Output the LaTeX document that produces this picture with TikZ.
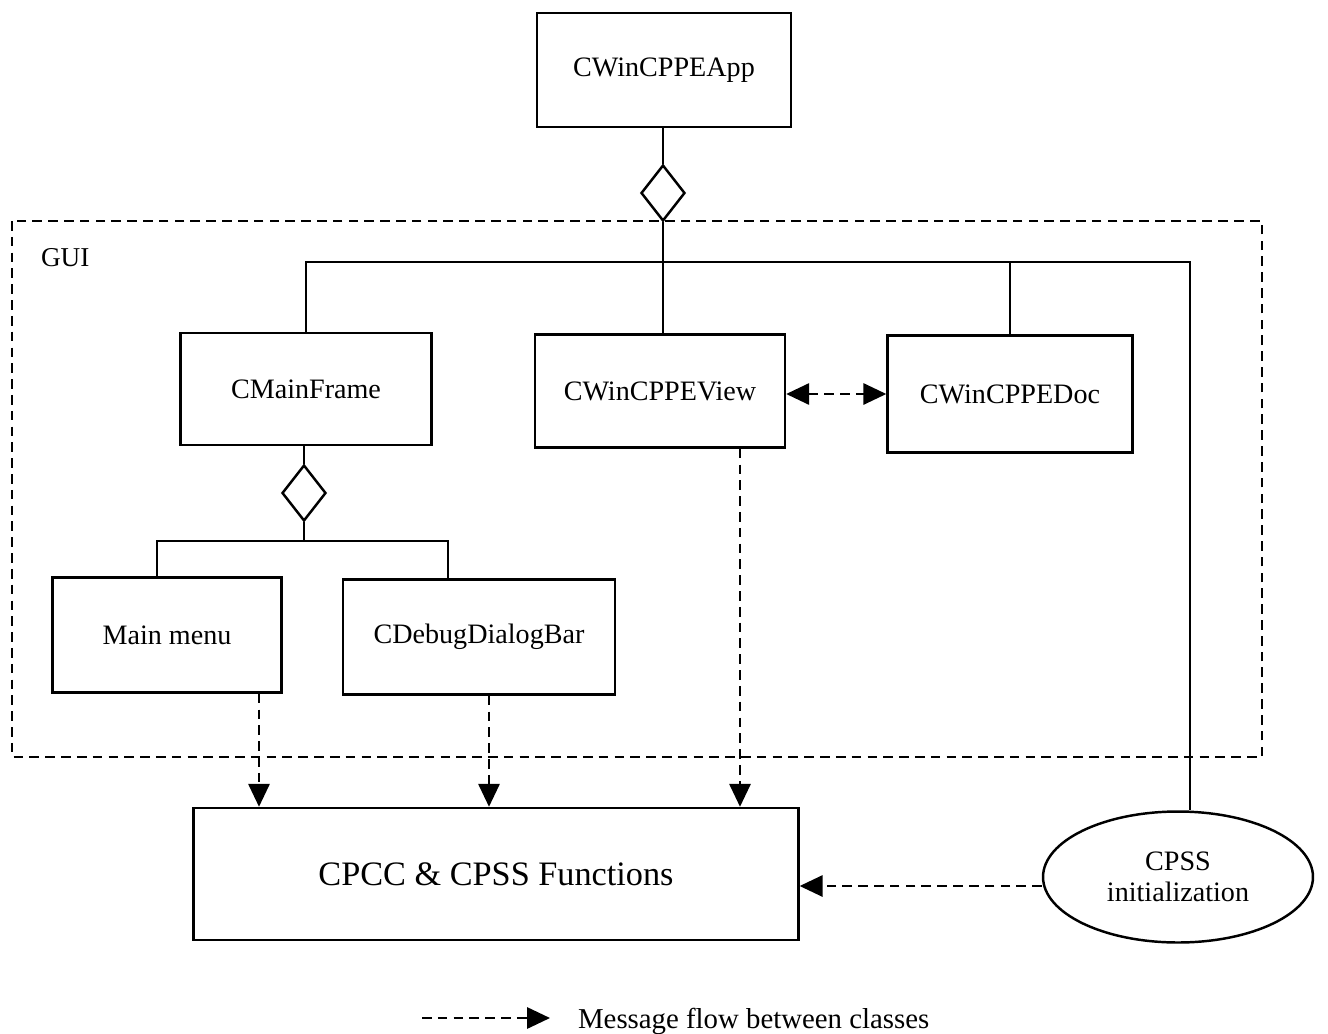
\documentclass[tikz,border=0pt]{standalone}
\usepackage{fontspec}
\setmainfont{Liberation Serif}
\usetikzlibrary{arrows.meta,shapes.geometric}
\begin{document}
\begin{tikzpicture}[x=0.02cm,y=-0.02cm,
  line width=1.4pt,
  classbox/.style={draw,rectangle,inner sep=0pt,font=\fontsize{16}{19}\selectfont},
  agg/.style={draw,diamond,inner sep=0pt,minimum width=0.88cm,minimum height=1.12cm},
  link/.style={draw},
  msg/.style={draw,dash pattern=on 5.5pt off 3.5pt,-{Triangle[length=13pt,width=12pt]}},
  msgboth/.style={draw,dash pattern=on 5.5pt off 3.5pt,{Triangle[length=13pt,width=12pt]}-{Triangle[length=13pt,width=12pt]}},
  guiframe/.style={draw,dash pattern=on 5.5pt off 3.5pt}]
\useasboundingbox (0,0) rectangle (1328,1034);

% GUI package frame
\draw[guiframe] (12,221) rectangle (1262,757);
\node[anchor=west,font=\fontsize{15.5}{18}\selectfont] (guilabel) at (34,258) {GUI};

% classes
\node[classbox,minimum width=5.08cm,minimum height=2.28cm] (app) at (664,70) {CWinCPPEApp};
\node[agg] (d1) at (663,193) {};
\node[classbox,minimum width=5.02cm,minimum height=2.24cm] (frame) at (306,389) {CMainFrame};
\node[classbox,minimum width=5.0cm,minimum height=2.26cm] (view) at (660,391) {CWinCPPEView};
\node[classbox,minimum width=4.9cm,minimum height=2.34cm] (doc) at (1010,394) {CWinCPPEDoc};
\node[agg] (d2) at (304,493) {};
\node[classbox,minimum width=4.58cm,minimum height=2.3cm] (menu) at (167,635) {Main menu};
\node[classbox,minimum width=5.44cm,minimum height=2.3cm] (dbg) at (479,637) {CDebugDialogBar};
\node[classbox,minimum width=12.1cm,minimum height=2.64cm,font=\fontsize{19.5}{23}\selectfont] (cpcc) at (496,874) {CPCC \& CPSS Functions};
\node[draw,ellipse,inner sep=0pt,minimum width=5.4cm,minimum height=2.62cm,align=center,font=\fontsize{16}{17.5}\selectfont] (init) at (1178,877) {CPSS\\initialization};

% aggregation links
\coordinate (bus) at (1190,262);
\coordinate (brL) at (157,541);
\coordinate (brR) at (448,541);
\coordinate (xm) at (259,0);
\coordinate (xd) at (489,0);
\coordinate (xv) at (740,0);

\draw[link] (d1.north |- app.south) -- (d1.north);
\draw[link] (d1.south) -- (d1.south |- view.north);
\draw[link] (frame.north) -- (frame.north |- bus) -- (bus) -- (init.north -| bus);
\draw[link] (doc.north) -- (doc.north |- bus);
\draw[link] (d2.north |- frame.south) -- (d2.north);
\draw[link] (d2.south) -- (d2.south |- brL);
\draw[link] (brL |- menu.north) -- (brL) -- (brR) -- (brR |- dbg.north);

% message flows
\draw[msgboth] (view.east |- doc.west) -- (doc.west);
\draw[msg] (xm |- menu.south) -- (xm |- cpcc.north);
\draw[msg] (xd |- dbg.south) -- (xd |- cpcc.north);
\draw[msg] (xv |- view.south) -- (xv |- cpcc.north);
\draw[msg] (init.west |- 0,886) -- (cpcc.east |- 0,886);

% legend
\coordinate (lg1) at (422,1018);
\coordinate (lg2) at (550,1018);
\draw[msg] (lg1) -- (lg2);
\node[anchor=west,font=\fontsize{16.4}{19}\selectfont] (lgtext) at (571,1021) {Message flow between classes};
\end{tikzpicture}
\end{document}
